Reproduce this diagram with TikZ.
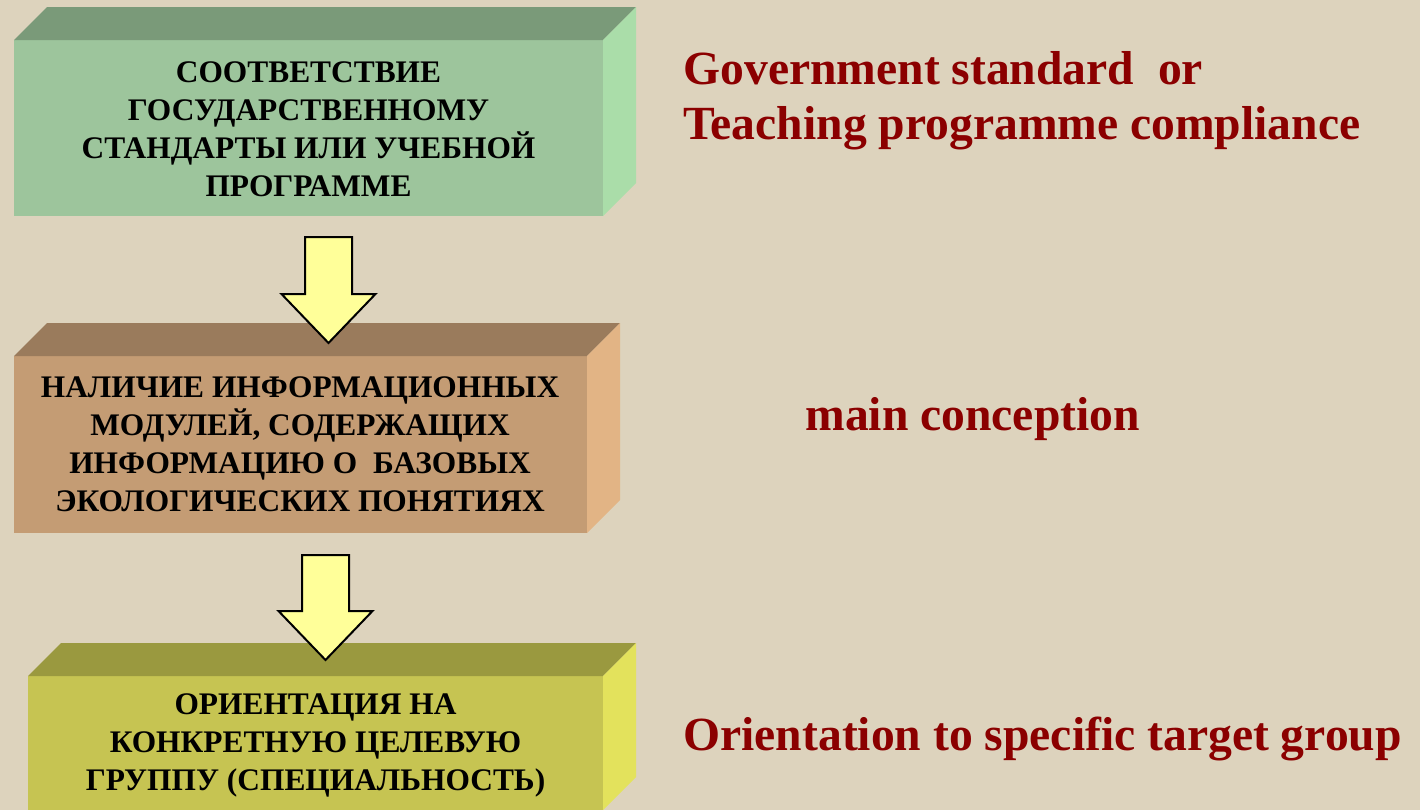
\documentclass[tikz,border=0pt]{standalone}
\usepackage{fontspec}
\setmainfont{Liberation Serif}
\usetikzlibrary{positioning,calc}

\definecolor{bgbeige}{HTML}{DDD3BD}
\definecolor{engred}{HTML}{8B0000}
\definecolor{arrowyellow}{HTML}{FFFF99}
\definecolor{frontsage}{HTML}{9DC59C}
\definecolor{topsage}{HTML}{7A9A79}
\definecolor{sidesage}{HTML}{AADDA9}
\definecolor{fronttan}{HTML}{C49C74}
\definecolor{toptan}{HTML}{9A7B5C}
\definecolor{sidetan}{HTML}{E2B485}
\definecolor{frontolive}{HTML}{C6C452}
\definecolor{topolive}{HTML}{9A993F}
\definecolor{sideolive}{HTML}{E3E25C}

\begin{document}
\begin{tikzpicture}[x=0.5pt,y=-0.5pt,
    boxtext/.style={font=\bfseries\fontsize{15.7}{19}\selectfont, align=center},
    engtext/.style={font=\bfseries\fontsize{23.8}{27.5}\selectfont, text=engred, anchor=base west, align=left, inner sep=0pt},
    blockarrow/.style={fill=arrowyellow, draw=black, line width=1pt, line join=miter}]

    % Background
    \fill[bgbeige] (0,0) rectangle (1420,810);
    \useasboundingbox (0,0) rectangle (1420,810);

    % Boxes: front, top and side faces
    \foreach \l/\t/\r/\b/\col in {14/40/603/216/sage, 14/356/587/533/tan, 28/676/603/810/olive} {
      \fill[front\col] (\l,\t) rectangle (\r,\b);
      \fill[top\col] (\l,\t) -- (\l+33,\t-33) -- (\r+33,\t-33) -- (\r,\t) -- cycle;
      \fill[side\col] (\r,\t) -- (\r+33,\t-33) -- (\r+33,\b-33) -- (\r,\b) -- cycle;
    }

    % Box texts
    \node[boxtext] (standard) at (308.5,129) {СООТВЕТСТВИЕ\\ГОСУДАРСТВЕННОМУ\\СТАНДАРТЫ ИЛИ УЧЕБНОЙ\\ПРОГРАММЕ};
    \node[boxtext] (modules) at (300,444) {НАЛИЧИЕ ИНФОРМАЦИОННЫХ\\МОДУЛЕЙ, СОДЕРЖАЩИХ\\ИНФОРМАЦИЮ О\ \ БАЗОВЫХ\\ЭКОЛОГИЧЕСКИХ ПОНЯТИЯХ};
    \node[boxtext] (target) at (315.5,745) {ОРИЕНТАЦИЯ НА\\КОНКРЕТНУЮ ЦЕЛЕВУЮ\\ГРУППУ (СПЕЦИАЛЬНОСТЬ)};

    % Arrows between boxes
    \coordinate (arrAtop) at (328.5,237);
    \coordinate (arrAtip) at (328.5,343);
    \coordinate (arrBtop) at (325.5,555);
    \coordinate (arrBtip) at (325.5,660);
    \foreach \s/\e in {arrAtop/arrAtip, arrBtop/arrBtip}
      \filldraw[blockarrow] ($(\s)+(-23.5,0)$) -- ($(\s)+(23.5,0)$) -- ($(\e)+(23.5,-49)$)
        -- ($(\e)+(47,-49)$) -- (\e) -- ($(\e)+(-47,-49)$) -- ($(\e)+(-23.5,-49)$) -- cycle;

    % English labels
    \node[engtext] (govlabel) at (683,139) {Government standard\ \ or\\Teaching programme compliance};
    \node[engtext] (conclabel) at (805,430) {main conception};
    \node[engtext] (orientlabel) at (683,750) {Orientation to specific target group};

\end{tikzpicture}
\end{document}
